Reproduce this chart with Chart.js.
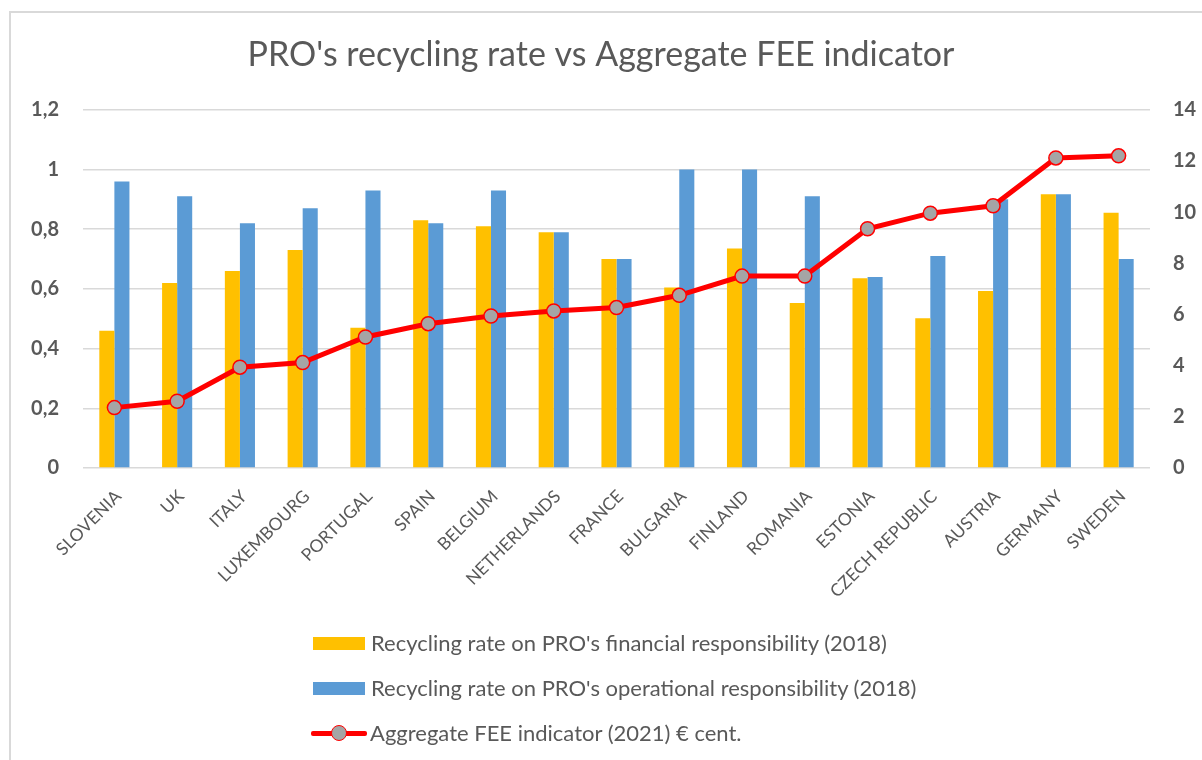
<!DOCTYPE html>
<html>
<head>
<meta charset="utf-8">
<script src="https://cdn.jsdelivr.net/npm/chart.js@4.4.1/dist/chart.umd.min.js"></script>
<style>
    body { margin: 0; background: #fff; font-family: Lato, "Open Sans", sans-serif; }
    #frame {
        position: absolute; left: 9px; top: 11px; width: 1300px; height: 800px;
        border-top: 2px solid #d9d9d9; border-left: 2px solid #d9d9d9;
    }
    #wrap { position: absolute; left: 0; top: 0; width: 1202px; height: 760px; }
    #legend { position: absolute; left: 311px; top: 629px; color: #595959; font-size: 22px; }
    .item { height: 45px; display: flex; align-items: flex-start; line-height: 28px; }
    .swatch { width: 52px; height: 13px; margin: 8px 6px 0 2px; }
    .lineIcon { position: relative; width: 56px; height: 28px; margin-right: 3px; }
    .lineIcon .bar { position: absolute; left: 0; right: 0; top: 12px; height: 5px; background: #ff0000; border-radius: 2px; }
    .lineIcon .dot { position: absolute; left: 20px; top: 6px; width: 14px; height: 14px; border-radius: 50%;
        background: #a5a5a5; border: 1.5px solid #ff0000; }
</style>
</head>
<body>
<div id="frame"></div>
<div id="wrap"><canvas id="chart" width="1202" height="760"></canvas></div>
<div id="legend"></div>

<script>
// ---------- DATA ----------
const countries = ["SLOVENIA", "UK", "ITALY", "LUXEMBOURG", "PORTUGAL", "SPAIN", "BELGIUM",
    "NETHERLANDS", "FRANCE", "BULGARIA", "FINLAND", "ROMANIA", "ESTONIA", "CZECH REPUBLIC",
    "AUSTRIA", "GERMANY", "SWEDEN"];

const financialRate = [0.46, 0.62, 0.66, 0.73, 0.47, 0.83, 0.81, 0.79, 0.70, 0.605, 0.735,
    0.553, 0.636, 0.502, 0.593, 0.917, 0.855];

const operationalRate = [0.96, 0.91, 0.82, 0.87, 0.93, 0.82, 0.93, 0.79, 0.70, 1.0, 1.0,
    0.91, 0.64, 0.71, 0.90, 0.917, 0.70];

const feeIndicator = [2.36, 2.61, 3.94, 4.12, 5.12, 5.64, 5.94, 6.14, 6.27, 6.75, 7.5,
    7.5, 9.35, 9.96, 10.25, 12.12, 12.2];

const seriesNames = [
    "Recycling rate on PRO's financial responsibility (2018)",
    "Recycling rate on PRO's operational responsibility (2018)",
    "Aggregate FEE indicator (2021) \u20ac cent."
];

const leftTicks = [0, 0.2, 0.4, 0.6, 0.8, 1, 1.2];
const rightTicks = [0, 2, 4, 6, 8, 10, 12, 14];

// ---------- STYLE ----------
const YELLOW = "#FFC000";
const BLUE = "#5B9BD5";
const RED = "#FF0000";
const GREY_DOT = "#A5A5A5";
const TEXT = "#595959";
const FONT = "Lato, 'Open Sans', sans-serif";

// ---------- CHART ----------
const ctx = document.getElementById("chart");

new Chart(ctx, {
    type: "bar",
    data: {
        labels: countries,
        datasets: [
            {
                type: "line",
                label: seriesNames[2],
                data: feeIndicator,
                yAxisID: "y2",
                borderColor: RED,
                borderWidth: 5,
                pointRadius: 7,
                pointBorderWidth: 1.5,
                pointBorderColor: RED,
                pointBackgroundColor: GREY_DOT,
                tension: 0,
                order: 0
            },
            {
                label: seriesNames[0],
                data: financialRate,
                backgroundColor: YELLOW,
                yAxisID: "y",
                order: 1
            },
            {
                label: seriesNames[1],
                data: operationalRate,
                backgroundColor: BLUE,
                yAxisID: "y",
                order: 1
            }
        ]
    },
    options: {
        responsive: false,
        animation: false,
        datasets: {
            bar: { categoryPercentage: 0.48, barPercentage: 1.0 }
        },
        layout: { padding: { left: 0, right: 0, top: 0, bottom: 157 } },
        plugins: {
            legend: { display: false },
            tooltip: { enabled: false },
            title: {
                display: true,
                text: "PRO's recycling rate vs Aggregate FEE indicator",
                color: TEXT,
                font: { family: FONT, size: 34, weight: "normal" },
                padding: { top: 35, bottom: 34 }
            }
        },
        scales: {
            x: {
                grid: { display: false },
                border: { display: false },
                ticks: {
                    color: TEXT,
                    font: { family: FONT, size: 17.5 },
                    minRotation: 45,
                    maxRotation: 45,
                    autoSkip: false,
                    labelOffset: 4,
                    padding: 10
                },
                afterFit: s => { s.height = 135; }
            },
            y: {
                position: "left",
                min: leftTicks[0],
                max: leftTicks[leftTicks.length - 1],
                afterBuildTicks: s => { s.ticks = leftTicks.map(v => ({ value: v })); },
                grid: { color: "#d9d9d9", lineWidth: 1.5, drawTicks: false },
                border: { display: false },
                ticks: {
                    color: TEXT,
                    font: { family: FONT, size: 20, weight: "bold" },
                    padding: 24,
                    callback: v => String(Math.round(v * 10) / 10).replace(".", ",")
                },
                afterFit: s => { s.width = 83; }
            },
            y2: {
                position: "right",
                min: rightTicks[0],
                max: rightTicks[rightTicks.length - 1],
                afterBuildTicks: s => { s.ticks = rightTicks.map(v => ({ value: v })); },
                grid: { display: false, drawTicks: false },
                border: { display: false },
                ticks: {
                    color: TEXT,
                    font: { family: FONT, size: 20, weight: "bold" },
                    padding: 23
                },
                afterFit: s => { s.width = 52; }
            }
        }
    }
});

// ---------- LEGEND (vertical, like the original) ----------
const legend = document.getElementById("legend");
[
    { kind: "box", color: YELLOW, text: seriesNames[0] },
    { kind: "box", color: BLUE, text: seriesNames[1] },
    { kind: "line", text: seriesNames[2] }
].forEach(it => {
    const row = document.createElement("div");
    row.className = "item";
    if (it.kind === "box") {
        row.innerHTML = `<div class="swatch" style="background:${it.color}"></div><span>${it.text}</span>`;
    } else {
        row.innerHTML = `<div class="lineIcon"><div class="bar"></div><div class="dot"></div></div><span>${it.text}</span>`;
    }
    legend.appendChild(row);
});
</script>
</body>
</html>
